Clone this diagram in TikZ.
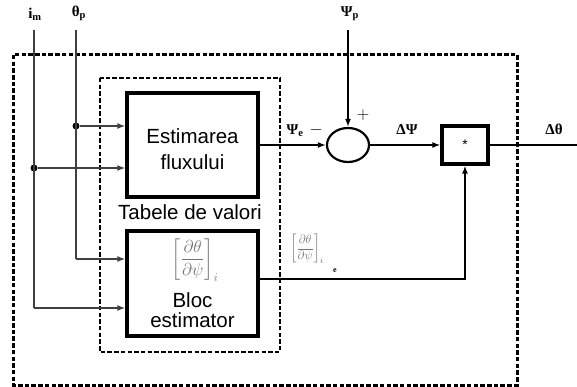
\documentclass[tikz,border=0pt]{standalone}
\usepackage{amsmath}
\usepackage{fontspec}
\setmainfont{Liberation Sans}
\newfontfamily\lserif{Liberation Serif}
\usetikzlibrary{arrows.meta,shapes.geometric}
\begin{document}
\begin{tikzpicture}[x=1pt,y=-1pt,
  blk/.style={draw,line width=3.2pt,rectangle,inner sep=0pt},
  sig/.style={line width=2.2pt},
  inp/.style={line width=1.6pt,draw=black!75},
  tip/.style={-{Latex[length=8pt,width=6pt]}},
  dsh/.style={line width=3pt,dash pattern=on 4.5pt off 2.2pt},
  lab/.style={font=\lserif\bfseries\fontsize{15}{17}\selectfont},
  txt/.style={font=\fontsize{20.5}{22}\selectfont,inner sep=1pt},
  dotn/.style={circle,fill,inner sep=0pt,minimum size=7pt}]
\useasboundingbox (0,0) rectangle (577,387);
% dashed frames
\draw[dsh] (13,55) rectangle (517,385);
\draw[dsh,line width=2.4pt] (100,78) rectangle (280,352);
% blocks
\node[blk,minimum width=131pt,minimum height=104pt] (est) at (192.5,145) {};
\node[txt] (estt1) at (192.5,136) {Estimarea};
\node[txt] (estt2) at (192.5,162) {fluxului};
\node[txt] (tab) at (190,212) {Tabele de valori};
\node[blk,minimum width=131pt,minimum height=105pt] (bloc) at (192.5,283.5) {};
\node[font=\fontsize{17}{19}\selectfont,text=black!55,inner sep=0pt] (fr) at (195,260) {$\biggl[\dfrac{\partial\theta}{\partial\psi}\biggr]_{i}$};
\node[txt] (bl1) at (192.5,300) {Bloc};
\node[txt] (bl2) at (192.5,320) {estimator};
\node[draw,line width=2.2pt,ellipse,minimum width=42pt,minimum height=34pt,inner sep=0pt] (sum) at (348,145) {};
\node[blk,minimum width=46pt,minimum height=38pt] (mul) at (465,145) {};
\node[font=\fontsize{14}{16}\selectfont] (star) at (465,145) {*};
% inputs
\coordinate (imtop) at (34,30);
\coordinate (thtop) at (76,30);
\coordinate (pptop) at (348,30);
\coordinate (out) at (577,145);
\node[lab] (im) at (35,14) {i\textsubscript{m}};
\node[lab] (th) at (79,13) {θ\textsubscript{p}};
\node[lab] (pp) at (350,14) {Ψ\textsubscript{p}};
\node[dotn] (d1) at (76,126) {};
\node[dotn] (d2) at (34,168) {};
\coordinate (b1) at (76,259);
\coordinate (b2) at (34,308);
\draw[inp] (thtop) -- (b1);
\draw[inp,tip] (b1) -- (b1 -| bloc.west);
\draw[inp] (imtop) -- (b2);
\draw[inp,tip] (b2) -- (b2 -| bloc.west);
\draw[inp,tip] (d1) -- (d1 -| est.west);
\draw[inp,tip] (d2) -- (d2 -| est.west);
% signals
\draw[sig,tip] (pptop) -- (sum.north);
\draw[sig,tip] (est.east) -- (sum.west);
\draw[sig,tip] (sum.east) -- (mul.west);
\draw[sig] (mul.east) -- (out);
\draw[sig,tip] ([yshift=4.5pt]bloc.east) -| (mul.south);
% labels
\node[lab] (pe) at (295,131) {Ψ\textsubscript{e}};
\node[lab,font=\fontsize{18}{20}\selectfont] (minus) at (316,130) {$-$};
\node[lab,font=\fontsize{18}{20}\selectfont] (plus) at (363,115) {$+$};
\node[lab] (dpsi) at (407,130) {ΔΨ};
\node[lab] (dth) at (554,129) {Δθ};
\node[font=\fontsize{13}{15}\selectfont,text=black!55] (fr2) at (307,249) {$\left[\dfrac{\partial\theta}{\partial\psi}\right]_{i}$};
\node[font=\lserif\bfseries\fontsize{8}{9}\selectfont] (e2) at (335,271) {e};
\end{tikzpicture}
\end{document}
